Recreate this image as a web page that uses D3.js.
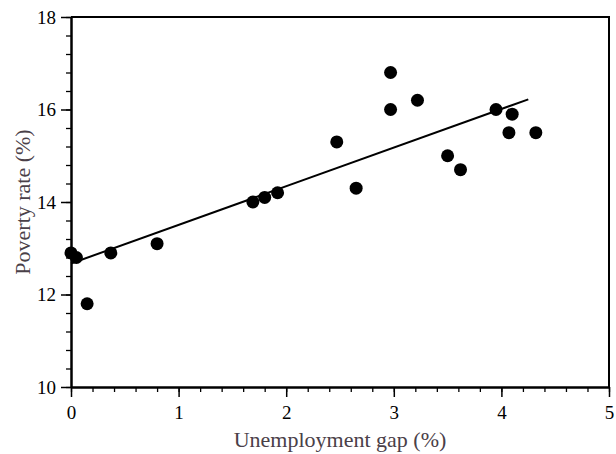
<!DOCTYPE html>
<html>
<head>
<meta charset="utf-8">
<script src="https://cdn.jsdelivr.net/npm/d3@7"></script>
<style>
	body { margin: 0; background: #fff; }
	svg { display: block; font-family: 'Liberation Serif', 'Times New Roman', serif; }
</style>
</head>
<body>
<div id="chart"></div>
<script>
// unemployment gap (%) and poverty rate (%) per observation
var gap = [ 0.0, 0.05, 0.15, 0.37, 0.8, 1.69, 1.8, 1.92, 2.47, 2.65, 2.97, 2.97, 3.22, 3.5, 3.62, 3.95, 4.07, 4.1, 4.32 ];
var poverty = [ 12.9, 12.8, 11.8, 12.9, 13.1, 14.0, 14.1, 14.2, 15.3, 14.3, 16.8, 16.0, 16.2, 15.0, 14.7, 16.0, 15.5, 15.9, 15.5 ];

// fitted line end points
var fitX = [ 0, 4.25 ];
var fitY = [ 12.67, 16.22 ];

var xTicks = [ 0, 1, 2, 3, 4, 5 ];
var yTicks = [ 10, 12, 14, 16, 18 ];

var width = 616;
var height = 454;
var margin = { top: 17, right: 7, bottom: 67, left: 71 };

var svg = d3.select('#chart').append('svg').attr('width', width).attr('height', height);

var x = d3.scaleLinear().domain([ 0, 5 ]).range([ margin.left, width - margin.right ]);
var y = d3.scaleLinear().domain([ 10, 18 ]).range([ height - margin.bottom, margin.top ]);

// frame (top and right)
svg.append('path')
	.attr('d', `M${x(0)},${y(18)}H${x(5)}V${y(10)}`)
	.attr('fill', 'none')
	.attr('stroke', '#000')
	.attr('stroke-width', 2);

// minor ticks
var xAxisMinor = (g) =>
	g
		.attr('transform', `translate(0,${y(10)})`)
		.call(d3.axisBottom(x).tickValues(d3.range(0, 5.01, 0.2)).tickSize(5).tickFormat(''))
		.call((g) => g.select('.domain').remove())
		.call((g) => g.selectAll('line').attr('stroke-width', 1.3));

var yAxisMinor = (g) =>
	g
		.attr('transform', `translate(${x(0)},0)`)
		.call(d3.axisLeft(y).tickValues(d3.range(10, 18.01, 0.4)).tickSize(5).tickFormat(''))
		.call((g) => g.select('.domain').remove())
		.call((g) => g.selectAll('line').attr('stroke-width', 1.3));

svg.append('g').call(xAxisMinor);
svg.append('g').call(yAxisMinor);

var xAxis = (g) =>
	g
		.attr('transform', `translate(0,${y(10)})`)
		.call(d3.axisBottom(x).tickValues(xTicks).tickFormat(d3.format('d')).tickSize(10).tickPadding(9).tickSizeOuter(0))
		.attr('font-family', null)
		.attr('font-size', 19)
		.call((g) => g.select('.domain').attr('stroke-width', 2.5))
		.call((g) => g.selectAll('line').attr('stroke-width', 1.5))
		.call((g) => g.selectAll('text').attr('fill', '#000'));

var yAxis = (g) =>
	g
		.attr('transform', `translate(${x(0)},0)`)
		.call(d3.axisLeft(y).tickValues(yTicks).tickFormat(d3.format('d')).tickSize(10).tickPadding(5).tickSizeOuter(0))
		.attr('font-family', null)
		.attr('font-size', 19)
		.call((g) => g.select('.domain').attr('stroke-width', 2.5))
		.call((g) => g.selectAll('line').attr('stroke-width', 1.5))
		.call((g) => g.selectAll('text').attr('fill', '#000'));

svg.append('g').call(xAxis);
svg.append('g').call(yAxis);

// titles
svg.append('text')
	.attr('x', (x(0) + x(5)) / 2)
	.attr('y', 447)
	.attr('text-anchor', 'middle')
	.attr('font-size', 22)
	.attr('fill', '#4a4048')
	.text('Unemployment gap (%)');

svg.append('text')
	.attr('transform', `translate(30,${(y(10) + y(18)) / 2}) rotate(-90)`)
	.attr('text-anchor', 'middle')
	.attr('font-size', 22)
	.attr('fill', '#4a4048')
	.text('Poverty rate (%)');

// fit line
svg.append('line')
	.attr('x1', x(fitX[0]))
	.attr('y1', y(fitY[0]))
	.attr('x2', x(fitX[1]))
	.attr('y2', y(fitY[1]))
	.attr('stroke', '#000')
	.attr('stroke-width', 2);

// points
svg.append('g')
	.selectAll('circle')
	.data(gap)
	.enter()
	.append('circle')
	.attr('cx', (d) => x(d))
	.attr('cy', (d, i) => y(poverty[i]))
	.attr('r', 6.5)
	.attr('fill', '#000');
</script>
</body>
</html>
